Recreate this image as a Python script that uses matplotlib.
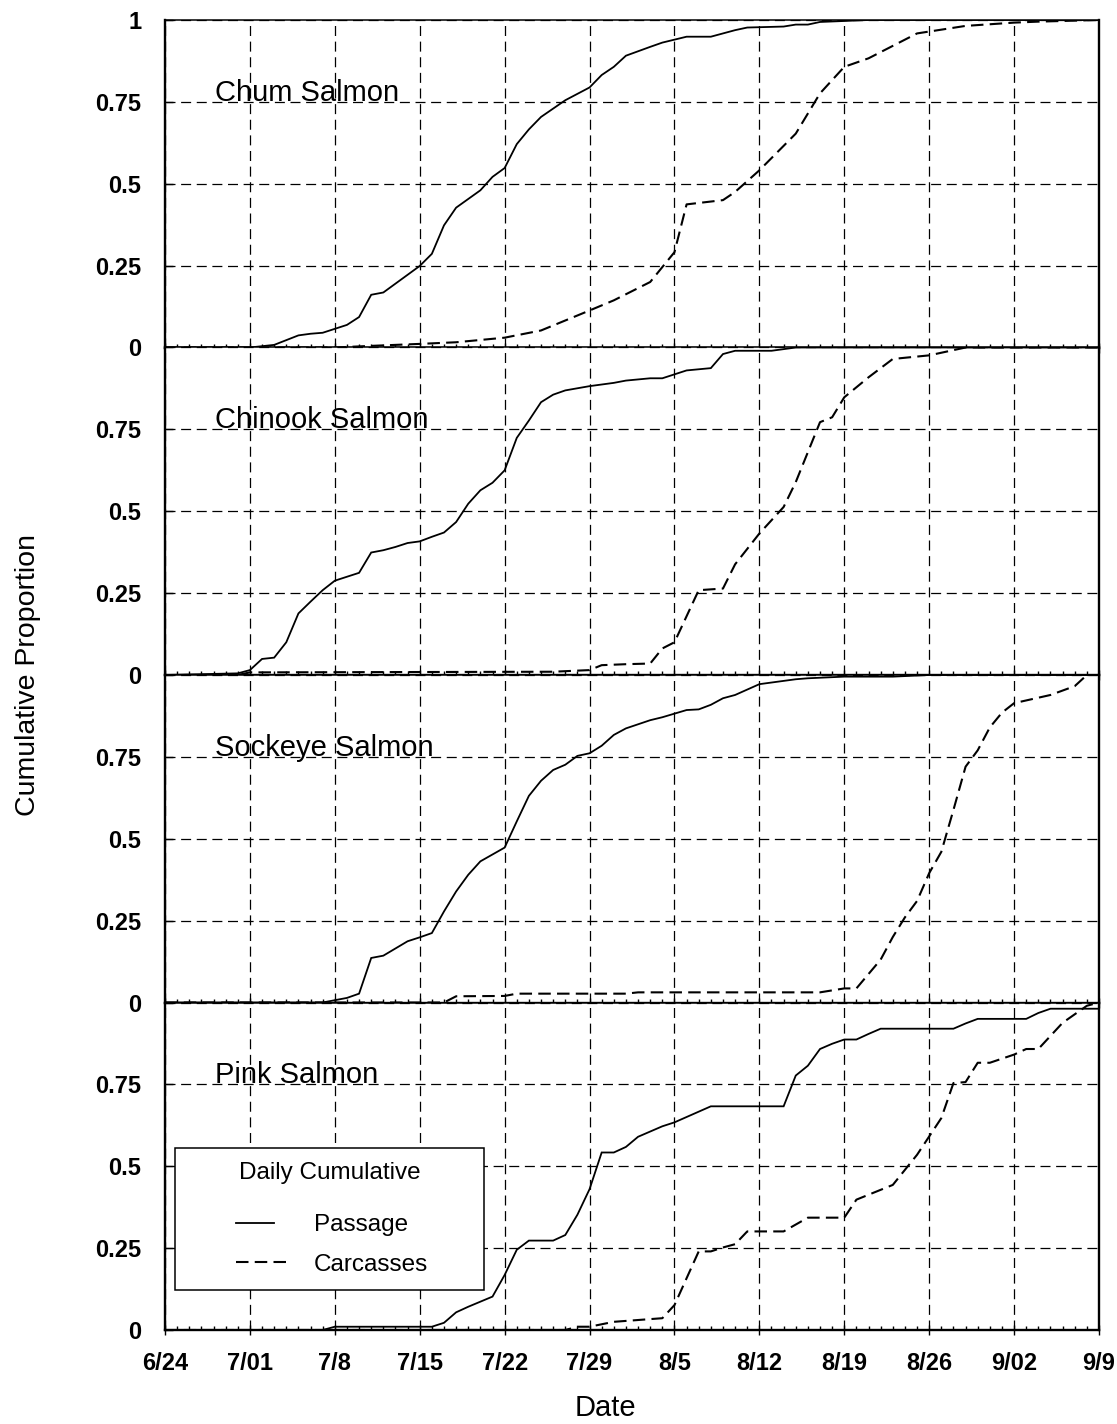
import numpy as np
import matplotlib
matplotlib.use('Agg')
import matplotlib.pyplot as plt
from matplotlib.ticker import MultipleLocator
from matplotlib.legend_handler import HandlerLine2D

plt.rcParams['font.family'] = ['Liberation Sans', 'DejaVu Sans']

# x values are days after 6/24
date_labels = ['6/24', '7/01', '7/8', '7/15', '7/22', '7/29', '8/5',
               '8/12', '8/19', '8/26', '9/02', '9/9']
species = ['Chum Salmon', 'Chinook Salmon', 'Sockeye Salmon', 'Pink Salmon']

chum_pass_day = [0, 7, 9, 11, 12, 13, 14, 15, 16, 17, 18, 21, 22, 23, 24, 26, 27, 28, 29,
                 30, 31, 33, 35, 36, 37, 38, 40, 41, 43, 45, 47, 48, 51, 52, 53, 54, 56, 58, 77]
chum_pass = [0, 0, 0.008, 0.037, 0.042, 0.045, 0.057, 0.069, 0.093, 0.161, 0.168, 0.249,
             0.286, 0.373, 0.427, 0.48, 0.521, 0.548, 0.621, 0.666, 0.704, 0.755, 0.794,
             0.832, 0.857, 0.891, 0.918, 0.931, 0.949, 0.949, 0.969, 0.977, 0.98, 0.986,
             0.986, 0.994, 0.997, 1.0, 1.0]
chum_carc_day = [0, 14, 17, 21, 24, 28, 31, 35, 37, 40, 42, 43, 46, 47, 49, 52, 54, 56, 58,
                 62, 66, 70, 72, 77]
chum_carc = [0, 0, 0.005, 0.011, 0.016, 0.03, 0.052, 0.113, 0.144, 0.2, 0.291, 0.437, 0.45,
             0.475, 0.541, 0.653, 0.776, 0.857, 0.883, 0.959, 0.982, 0.992, 0.995, 1.0]

chinook_pass_day = [0, 6, 7, 8, 9, 10, 11, 12, 13, 14, 16, 17, 18, 19, 20, 21, 22, 23, 24, 25,
                    26, 27, 28, 29, 30, 31, 32, 33, 35, 37, 38, 40, 41, 43, 45, 46, 47, 50, 52, 77]
chinook_pass = [0, 0.005, 0.015, 0.049, 0.053, 0.10, 0.188, 0.224, 0.259, 0.288, 0.312, 0.374,
                0.381, 0.391, 0.403, 0.408, 0.422, 0.435, 0.467, 0.523, 0.564, 0.587, 0.625,
                0.724, 0.777, 0.833, 0.856, 0.869, 0.882, 0.892, 0.899, 0.906, 0.906, 0.93,
                0.937, 0.98, 0.99, 0.99, 1.0, 1.0]
chinook_carc_day = [0, 6, 7, 32, 35, 36, 38, 40, 41, 42, 44, 46, 47, 49, 51, 52, 54, 55, 56,
                    58, 60, 63, 66, 77]
chinook_carc = [0, 0, 0.008, 0.01, 0.015, 0.03, 0.033, 0.035, 0.081, 0.10, 0.259, 0.264,
                0.338, 0.432, 0.513, 0.589, 0.772, 0.787, 0.848, 0.909, 0.965, 0.976, 1.0, 1.0]

sockeye_pass_day = [0, 13, 15, 16, 17, 18, 20, 21, 22, 23, 24, 25, 26, 28, 29, 30, 31, 32, 33,
                    34, 35, 36, 37, 38, 40, 41, 43, 44, 45, 46, 47, 49, 50, 52, 53, 56, 60, 63, 77]
sockeye_pass = [0, 0, 0.014, 0.027, 0.136, 0.143, 0.187, 0.199, 0.212, 0.278, 0.339, 0.39,
                0.431, 0.473, 0.553, 0.631, 0.677, 0.71, 0.726, 0.753, 0.761, 0.784, 0.817,
                0.837, 0.862, 0.871, 0.893, 0.895, 0.909, 0.929, 0.939, 0.972, 0.977, 0.987,
                0.99, 0.995, 0.995, 1.0, 1.0]
sockeye_carc_day = [0, 23, 24, 28, 29, 38, 39, 54, 56, 57, 59, 60, 61, 62, 63, 64, 65, 66, 67,
                    68, 69, 70, 73, 75, 76, 77]
sockeye_carc = [0, 0, 0.019, 0.02, 0.027, 0.027, 0.031, 0.031, 0.043, 0.043, 0.131, 0.2, 0.26,
                0.31, 0.395, 0.46, 0.588, 0.72, 0.77, 0.84, 0.885, 0.914, 0.939, 0.966, 1.0, 1.0]

pink_pass_day = [0, 13, 14, 22, 23, 24, 25, 27, 28, 29, 30, 32, 33, 34, 35, 36, 37, 38, 39, 41,
                 42, 45, 51, 52, 53, 54, 55, 56, 57, 58, 59, 65, 66, 67, 71, 72, 73, 77]
pink_pass = [0, 0, 0.01, 0.01, 0.022, 0.054, 0.071, 0.102, 0.168, 0.245, 0.273, 0.273, 0.29,
             0.352, 0.43, 0.542, 0.542, 0.559, 0.59, 0.622, 0.634, 0.683, 0.683, 0.777, 0.807,
             0.858, 0.874, 0.887, 0.887, 0.904, 0.92, 0.92, 0.936, 0.95, 0.95, 0.968, 0.981, 0.981]
pink_carc_day = [0, 33, 34, 35, 37, 41, 42, 44, 45, 46, 47, 48, 51, 53, 56, 57, 60, 62, 64,
                 65, 66, 67, 68, 70, 71, 72, 74, 76, 77]
pink_carc = [0, 0, 0.01, 0.01, 0.025, 0.036, 0.076, 0.24, 0.24, 0.252, 0.262, 0.301, 0.301,
             0.343, 0.343, 0.398, 0.443, 0.535, 0.647, 0.754, 0.757, 0.816, 0.816, 0.841,
             0.858, 0.858, 0.938, 0.99, 1.0]

series = [
    (chum_pass_day, chum_pass, chum_carc_day, chum_carc),
    (chinook_pass_day, chinook_pass, chinook_carc_day, chinook_carc),
    (sockeye_pass_day, sockeye_pass, sockeye_carc_day, sockeye_carc),
    (pink_pass_day, pink_pass, pink_carc_day, pink_carc),
]


class ShiftedLine(HandlerLine2D):
    # legend line drawn over only part of the handle box
    def __init__(self, start, stop, **kw):
        super().__init__(**kw)
        self.start = start
        self.stop = stop

    def create_artists(self, legend, orig_handle, xdescent, ydescent, width, height,
                       fontsize, trans):
        x0 = self.start * width
        w = (self.stop - self.start) * width
        return super().create_artists(legend, orig_handle, xdescent - x0, ydescent, w,
                                      height, fontsize, trans)


W, H = 1117, 1424
fig = plt.figure(figsize=(W / 100, H / 100), dpi=100)

left, right = 165 / W, 1099 / W
top_px, panel_px = 20, 327.5
grid_ls = (0, (8, 4.5))
carc_ls = (0, (6, 3))
week_ticks = list(range(0, 78, 7))

axes = []
for i, (pd_, pv, cd, cv) in enumerate(series):
    bottom = 1 - (top_px + (i + 1) * panel_px) / H
    ax = fig.add_axes([left, bottom, right - left, panel_px / H])
    axes.append(ax)

    lp, = ax.plot(pd_, pv, color='black', lw=1.3, solid_joinstyle='miter')
    lc, = ax.plot(cd, cv, color='black', lw=1.5, linestyle=carc_ls)

    ax.set_xlim(0, 77)
    ax.set_ylim(0, 1)
    ax.set_xticks(week_ticks)
    ax.xaxis.set_minor_locator(MultipleLocator(1))
    ax.set_yticks([0, 0.25, 0.5, 0.75, 1])
    if i == 0:
        ax.set_yticklabels(['0', '0.25', '0.5', '0.75', '1'])
    else:
        ax.set_yticklabels(['0', '0.25', '0.5', '0.75', ''])
    if i == 3:
        ax.set_xticklabels(date_labels)
    else:
        ax.tick_params(axis='x', labelbottom=False)
    ax.grid(True, which='major', color='black', lw=0.9, linestyle=grid_ls)
    ax.set_axisbelow(True)

    ax.tick_params(axis='y', direction='in', length=6, width=1.0, labelsize=17, pad=17)
    ax.tick_params(axis='x', which='major', direction='inout', length=7, width=1.0,
                   labelsize=17, pad=12)
    ax.tick_params(axis='x', which='minor', direction='in', length=3, width=1.0)
    for lab in ax.get_xticklabels() + ax.get_yticklabels():
        lab.set_fontweight('bold')

    for s in ['left', 'bottom', 'right']:
        ax.spines[s].set_linewidth(1.7)
    ax.spines['top'].set_linewidth(1.1)

    ax.text(0.0535, 0.753, species[i], transform=ax.transAxes, fontsize=21,
            ha='left', va='baseline')

lp.set_label('Passage')
lc.set_label('Carcasses')
leg_fs = 17.5
leg = axes[3].legend(handles=[lp, lc], title='Daily Cumulative', loc='upper left',
                     bbox_to_anchor=(0.0107, 0.128, 0.331, 0.429), mode='expand',
                     borderaxespad=0, fontsize=leg_fs, title_fontsize=leg_fs, fancybox=False,
                     framealpha=1, edgecolor='black', borderpad=0.6, labelspacing=0.72,
                     handlelength=4.3, handletextpad=0.8,
                     handler_map={lp: ShiftedLine(0.448, 0.81),
                                  lc: ShiftedLine(0.448, 0.962)})
leg.get_frame().set_linewidth(1.1)
# wider gap between the legend title and its entries
leg._legend_box.sep = 0.72 * leg_fs + 9

fig.text(28 / W, 1 - 675 / H, 'Cumulative Proportion', rotation=90, fontsize=20.5,
         ha='center', va='center')
fig.text(605 / W, 1 - 1408 / H, 'Date', fontsize=21, ha='center', va='center')

fig.savefig('out.png', dpi=100)
